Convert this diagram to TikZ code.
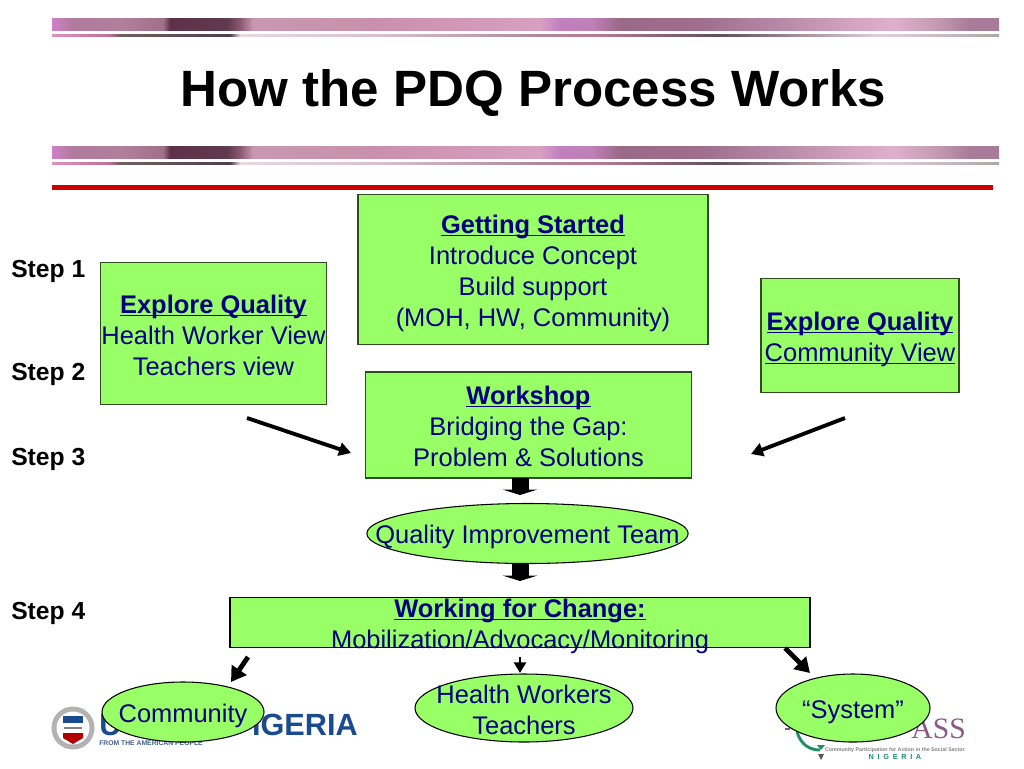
\documentclass[tikz,border=0pt]{standalone}
\usepackage{fontspec}
\setmainfont{Liberation Sans}
\newfontfamily\logoserif{Liberation Serif}
\usetikzlibrary{shapes.geometric, arrows.meta, positioning}
\definecolor{limefill}{HTML}{99FF66}
\definecolor{navytext}{HTML}{000080}
\definecolor{ruler}{HTML}{CC0000}
\definecolor{usaidblue}{HTML}{1B4B8F}
\definecolor{compurple}{HTML}{8A5A86}
\definecolor{comgreen}{HTML}{1F8F66}
\newcommand{\headline}[1]{\underline{\raisebox{0pt}[\height][0pt]{\textbf{#1}}}}
\newcommand{\plainline}[1]{\underline{\raisebox{0pt}[\height][0pt]{#1}}}
\newcommand{\drop}[1]{\rule{0pt}{#1pt}}

\begin{document}
\begin{tikzpicture}[
	x=0.75pt, y=-0.75pt,
	font=\fontsize{19.1}{23.25}\selectfont,
	box/.style={draw=black!70!limefill, fill=limefill, text=navytext, align=center, inner sep=-8pt, line width=0.8pt},
	oval/.style={box, ellipse, draw=black, inner sep=-45pt},
	steplabel/.style={font=\fontsize{18.5}{22}\selectfont\bfseries, anchor=west, inner sep=0pt},
	blockarrow/.style={line width=12.75pt, -{Triangle[width=25.5pt, length=4pt]}},
	slimarrow/.style={line width=2.9pt, -{Triangle[width=10pt, length=9pt]}},
	heavyarrow/.style={line width=3.6pt, -{Triangle[width=13pt, length=11pt]}},
	shortarrow/.style={line width=2.2pt, -{Triangle[width=9pt, length=8pt]}}
	]

	\useasboundingbox (0,0) rectangle (1024,768);
	\fill[white] (0,0) rectangle (1024,768);

	% top and bottom bands round the title
	\foreach \t in {18,146} {
		\foreach \xa/\xb/\ca/\cb in {52/73/D080C8/B07A9C, 73/123/B07A9C/B0809C, 123/163/B0809C/A07088, 163/170/A07088/5E3048,
			170/227/5E3048/603A50, 227/240/603A50/8A5870, 240/253/8A5870/C898B0, 253/373/C898B0/C890AC, 373/540/C890AC/D8A0C0,
			540/560/D8A0C0/C080C0, 560/592/C080C0/C080B8, 592/620/C080B8/9A6A88, 620/700/9A6A88/9E6E8C, 700/787/9E6E8C/B88CA8,
			787/853/B88CA8/D4A4C0, 853/893/D4A4C0/DEB0CC, 893/937/DEB0CC/C49AB2, 937/970/C49AB2/A87C98, 970/999/A87C98/A87C98} {
			\definecolor{ca}{HTML}{\ca}
			\definecolor{cb}{HTML}{\cb}
			\shade[left color=ca, right color=cb] (\xa,\t) rectangle (\xb,\t+12);
		}
		\foreach \xa/\xb/\ca/\cb in {52/110/E090C0/C07090, 110/120/C07090/706060, 120/230/706060/504048, 230/240/504048/E8D8E0,
			240/380/E8D8E0/D8C0CC, 380/540/D8C0CC/B08898, 540/600/B08898/B87890, 600/720/B87890/605058, 720/800/605058/A89098,
			800/880/A89098/E0D0D8, 880/999/E0D0D8/B0A8A8} {
			\definecolor{ca}{HTML}{\ca}
			\definecolor{cb}{HTML}{\cb}
			\shade[left color=ca, right color=cb] (\xa,\t+16) rectangle (\xb,\t+18.5);
		}
	}
	\fill[ruler] (52,185) rectangle (993,190);
	\node[font=\fontsize{38.3}{44}\selectfont\bfseries, inner sep=0pt] (title) at (533.5,93) {How the PDQ Process Works};

	% logos sit behind the ovals
	\fill[gray!60] (73,728) circle (21.5);
	\fill[white] (73,728) circle (16.5);
	\fill[usaidblue] (63,716) rectangle (83,723);
	\fill[red!70!black] (63,733) -- (83,733) -- (83,738) -- (73,744) -- (63,738) -- cycle;
	\draw[gray, line width=1pt] (64,728) -- (82,728);
	\node[font=\fontsize{23}{26}\selectfont\bfseries, text=usaidblue, anchor=west, inner sep=0pt] (usaidU) at (99,725) {U};
	\node[font=\fontsize{23}{26}\selectfont\bfseries, text=usaidblue, anchor=east, inner sep=0pt] (usaid) at (358,725) {IGERIA};
	\node[font=\fontsize{5.1}{6}\selectfont\bfseries, text=usaidblue!60!gray, anchor=west, inner sep=0pt] (people) at (99,743) {FROM THE AMERICAN PEOPLE};
	\node[font=\fontsize{22.2}{25}\selectfont\logoserif, text=compurple, anchor=east, inner sep=0pt] (compass) at (966,729) {ASS};
	\node[font=\fontsize{3.97}{5}\selectfont\bfseries, text=gray, anchor=east, inner sep=0pt] (sector) at (965,750) {Community Participation for Action in the Social Sector};
	\node[font=\fontsize{5.5}{6}\selectfont\bfseries, text=comgreen, anchor=center, inner sep=0pt] (nigeria) at (895,757) {N\,\,\,I\,\,\,G\,\,\,E\,\,\,R\,\,\,I\,\,\,A};
	\draw[comgreen, line width=2.2pt] (797,732) .. controls (801,745) and (810,750) .. (820,750);
	\fill[comgreen] (817,745) -- (825,745) -- (821,750) -- cycle;
	\fill[gray!70!black] (818,754) -- (824,754) -- (821,760) -- cycle;
	\draw[compurple, line width=1pt] (785,729) -- (790,729);

	\node[box, minimum width=262.5pt, minimum height=113pt] (started) at (533,269.5) {\drop{20}\headline{Getting Started}\\Introduce Concept\\Build support\\(MOH, HW, Community)};
	\node[box, minimum width=170pt, minimum height=106pt] (exploreL) at (213.5,333.5) {\drop{17}\headline{Explore Quality}\\Health Worker View\\Teachers view};
	\node[box, minimum width=148.5pt, minimum height=85pt] (exploreR) at (860,335.5) {\drop{17.5}\headline{Explore Quality}\\\plainline{Community View}};
	\node[box, minimum width=244pt, minimum height=79.5pt] (workshop) at (528.5,425) {\drop{16}\headline{Workshop}\\Bridging the Gap:\\Problem \& Solutions};
	\node[oval, minimum width=241pt, minimum height=45pt] (team) at (527.5,533.5) {\drop{19}Quality Improvement Team};
	\node[box, draw=black, minimum width=435pt, minimum height=38pt] (change) at (520,622.5) {\drop{20}\headline{Working for Change:}\\Mobilization/Advocacy/Monitoring};
	\node[oval, minimum width=121.5pt, minimum height=45pt] (community) at (183,712) {\drop{19}Community};
	\node[oval, minimum width=163.5pt, minimum height=51pt] (workers) at (524,708) {\drop{17}Health Workers\\Teachers};
	\node[oval, minimum width=115.5pt, minimum height=51pt] (system) at (853,708) {\drop{19}``System''};

	\node[steplabel] (step1) at (11,271) {Step 1};
	\node[steplabel] (step2) at (11,374) {Step 2};
	\node[steplabel] (step3) at (11,459) {Step 3};
	\node[steplabel] (step4) at (11,613) {Step 4};

	\coordinate (inL) at (247,418);
	\coordinate (inLend) at (351,453);
	\coordinate (inR) at (845,418);
	\coordinate (inRend) at (751,454);
	\coordinate (teamtop) at (520,478);
	\coordinate (teamend) at (520,495);
	\coordinate (changetop) at (520,564);
	\coordinate (changeend) at (520,581);
	\coordinate (comstart) at (248,657);
	\coordinate (comend) at (231,682);
	\coordinate (wrkstart) at (520,657);
	\coordinate (wrkend) at (520,673);
	\coordinate (sysstart) at (785,648);
	\coordinate (sysend) at (810,673);

	\foreach \a/\b in {inL/inLend, inR/inRend} {
		\draw[slimarrow] (\a) -- (\b);
	}
	\foreach \a/\b in {comstart/comend, sysstart/sysend} {
		\draw[heavyarrow] (\a) -- (\b);
	}
	\draw[shortarrow] (wrkstart) -- (wrkend);
	\foreach \a/\b in {teamtop/teamend, changetop/changeend} {
		\draw[blockarrow] (\a) -- (\b);
	}

\end{tikzpicture}
\end{document}
